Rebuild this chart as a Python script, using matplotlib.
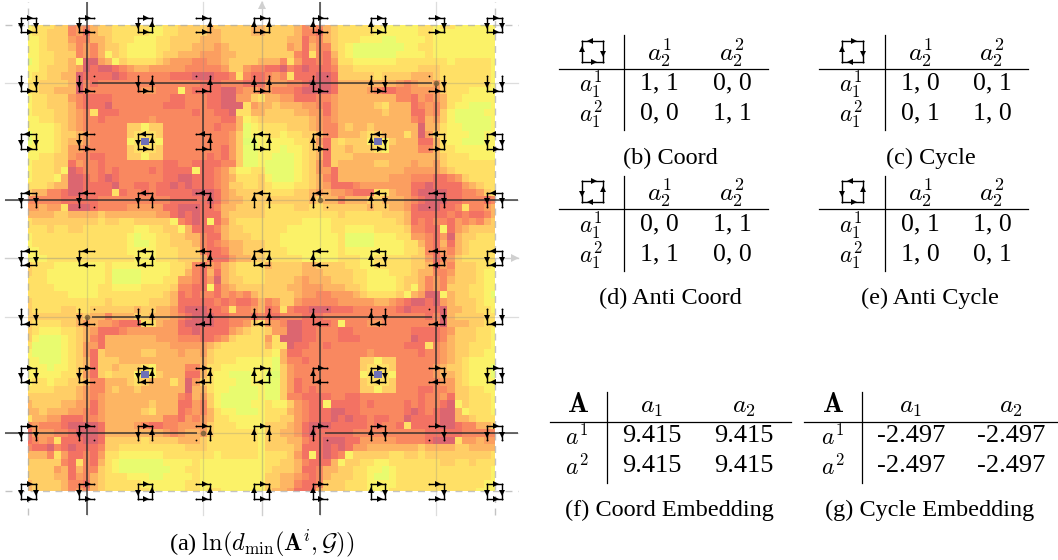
import numpy as np
import matplotlib
matplotlib.use('Agg')
import matplotlib.pyplot as plt
from matplotlib.colors import ListedColormap

plt.rcParams['font.family'] = ['Liberation Serif', 'DejaVu Serif']
plt.rcParams['mathtext.fontset'] = 'cm'

# heat levels read cell by cell, one char per cell, B is the blue minimum
top_left = [
"233344767544333332233444454444455","233444768544333332233444455444455",
"223444677554333222334444555444444","223444576754432222334445556544444",
"223344476752432222344555666554444","123344529965243333456667766544445",
"223444569899876556666677777644677","233445598888987777778889998873788",
"334444597877777777777777888777888","334455597777777766777278888997667",
"233444678888777777778877788996643","233444578889777777788877788999365",
"233344567388877777777778778893355","223344567787777776777777777885234",
"222234567777774424477777778775123","122234456777774333477777777764122",
"1222345567777723B3277777777764012","222234667777774333477777777864112",
"223344677887774424477777787864112","233344867787777777788778888774112",
"233342987787877778788882887642233","233325998789877777788998887653334",
"333455998888977887889898887644334","455778998888387787888889998654444",
"777778888877777777778888898655444","665663999877776666688999887554444",
"555544555545555555668989888544444","344444444434433444442789828643333",
"333433443333333223344258887544333","233333333333332122334455788544433",
"233333333333332112334445787655444","223333333333332222333444788755444",
"222333333333333222333444588865544",
]
top_right = [
"44445767543333332222233233222222","44445778543333322222233222222222",
"44455867543332221122223222222222","44465857743211111112233222222222",
"44447837853211111122223222222222","55736887863322222233333332333332",
"88978988874433333333344433333332","76738889984444434444555433333332",
"66677899985555555567655643333332","67778999985555678877666643332222",
"55668887765555555577867653322222","54555667865555543555876753221112",
"44445566865555554555886742111122","44444456765555555555785642111112",
"33344456775455455555595532211112","33233445775554345553596432221122",
"222233468434442B2455588532211122","22122345844544432555577533222222",
"21112345844455555555555543332222","11112346845555544555655643333333",
"11112346685555555556666654333333","21112345785555555666777887643333",
"32223345688876666666889888865433","33334456566788833566899998877643",
"44444454557555445556789998877787","33334433444444544556899988737765",
"33333333334333334445888887878875","33333222233333333345878778676754",
"33322222233222233334778828654444","33222222223111122233667869544333",
"33222222223111122223357858543333","33322222223222222223347867543333",
"33333222223332233333446876433333",
]
bottom_left = [
"433322222223222222223347867543333","433222222223111122223357858543333",
"333222222223111122233667869544333","333322222233222233334778828654444",
"333333222233333333345878778676754","433333333334333334445888887878875",
"433334433444444544556899988737765","444444454557555445556789998877787",
"433334456566788833566899998877643","432223345688876666666889888865433",
"421112345785555555666777887643333","311112346685555555556666654333333",
"211112346845555544555655643333333","221112345844455555555555543332222",
"222122345844544432555577533222222","2222233468434442B2455588532211122",
"233233445775554345553596432221122","333344456775455455555595532211112",
"444444456765555555555785642111112","544445566865555554555886742111122",
"554555667865555543555876753221112","355668887765555555577867653322222",
"767778999985555678877666643332222","866677899985555555567655643333332",
"876738889984444434444555433333332","788978988874433333333344433333332",
"555736887863322222233333332333332","444447837853211111122223222222222",
"444465857743211111112233222222222","444455867543332221122223222222222",
"544445778543333322222233222222222","544445767543333332222233233222222",
]
bottom_right = [
"54444554444332233333445867444332","44444555444433222333455776444322",
"44445655544433222234457675444322","44455666555443222234257674443322",
"44445667766654333342569925443321","76446777776666655678998965444322",
"87378899988877777789888895544332","88777888777777777777778795444433",
"66799888872777667777777795554433","46699887778877777777888876444332",
"63999887778887777777988875444332","53398877877777777778883765443332",
"32588777777777677777787765443322","21577877777774424477777765432222",
"21467777777774333477777654432221","104677777777723B3277777655432221",
"11468777777774333477777766432222","11468787777774424477788776443322",
"11477888877887777777787768443332","32246788288887877778787789243332",
"33356788899887777778987899523332","33446788898988788779888899554333",
"44456899988888787783888899877554","44556898888877777777778888877777",
"44455788999886666677778999366566","44445888989866555555545555445555",
"33346828987244444334434444444443","33445788852443322333333344334333",
"34445887554433221233333333333332","44556787544433211233333333333332",
"44557887444333222233333333333322","45568885444333222333333333333222",
]

# arrow direction of the four icon edges, by lattice row or column, 0 means no edge
top_dir = [1, 0, -1, -1, -1, 0, 1, 1, 1]
bottom_dir = [1, 1, 1, 0, -1, -1, -1, 0, 1]
left_dir = [-1, -1, -1, 0, 1, 1, 1, 0, -1]
right_dir = [-1, 0, 1, 1, 1, 0, -1, -1, -1]

lattice = [-4, -3, -2, -1, 0, 1, 2, 3, 4]
saddles_x = [3, 1, -3, -1]
saddles_y = [3, 1, -1, -3]
blue_colors = ['#e0fb72', '#e8fb6f', '#fbf268', '#ffe066', '#ffce66', '#fdb563',
               '#fb9e60', '#f98860', '#f37263', '#dc6670', '#6e70b8']

headers = ['$a_2^1$', '$a_2^2$']
row_labels = ['$a_1^1$', '$a_1^2$']
coord = [['1, 1', '0, 0'], ['0, 0', '1, 1']]
cycle = [['1, 0', '0, 1'], ['0, 1', '1, 0']]
anti_coord = [['0, 0', '1, 1'], ['1, 1', '0, 0']]
anti_cycle = [['0, 1', '1, 0'], ['1, 0', '0, 1']]
coord_emb = [['9.415', '9.415'], ['9.415', '9.415']]
cycle_emb = [['-2.497', '-2.497'], ['-2.497', '-2.497']]


def to_levels(rows, n):
    # a hand typed row can come out a cell short or long
    rows = [r[:n].ljust(n, r[-1]) for r in rows]
    return np.array([[10 if ch == 'B' else int(ch) for ch in r] for r in rows])


def draw_icon(ax, cx, cy, half, top, right, bottom, left, s=1, ms=4, lw=1.0):
    # s is -1 on an axes whose y runs downwards
    xl, xr = cx - half, cx + half
    yt, yb = cy + s * half, cy - s * half
    ax.plot([xl, xr, xl, xr], [yt, yt, yb, yb], ls='', marker='o', ms=1.3, color='k', zorder=6, mew=0)
    off = 0.2 * half
    for d, y in ((top, yt), (bottom, yb)):
        if d != 0:
            ax.plot([xl, xr], [y, y], color='k', lw=lw, zorder=6)
            ax.plot(cx + d * off, y, marker='>' if d > 0 else '<', ms=ms, color='k', zorder=7, mew=0)
    for d, x in ((left, xl), (right, xr)):
        if d != 0:
            ax.plot([x, x], [yt, yb], color='k', lw=lw, zorder=6)
            ax.plot(x, cy + s * d * off, marker='^' if d > 0 else 'v', ms=ms, color='k', zorder=7, mew=0)


fig = plt.figure(figsize=(10.58, 5.6), dpi=100)

# left panel, lattice units, -4..4 spans 28.3..494.7 px across and 25..491 px down
unit = 58.3
ax = fig.add_axes([0, 30 / 560, 532 / 1058, 530 / 560])
ax.set_xlim(-4 - 28.3 / unit, -4 + (532 - 28.3) / unit)
ax.set_ylim(4 - (530 - 25) / unit, 4 + 25 / unit)
ax.axis('off')

levels = np.vstack([np.hstack([to_levels(top_left, 33), to_levels(top_right, 32)]),
                    np.hstack([to_levels(bottom_left, 33), to_levels(bottom_right, 32)])])
edges = np.r_[-4, np.arange(-3.9375, 4, 0.125), 4]
ax.pcolormesh(edges, edges[::-1], levels, cmap=ListedColormap(blue_colors), vmin=-0.5, vmax=10.5,
              shading='flat', zorder=1)

ext = 4.4
for v in [-3, -1, 1, 3]:
    ax.plot([v, v], [-ext, ext], color='#888888', lw=0.9, alpha=0.28, zorder=2)
    ax.plot([-ext, ext], [v, v], color='#888888', lw=0.9, alpha=0.28, zorder=2)
ax.plot([0, 0], [-ext, ext], color='#888888', lw=1, alpha=0.4, zorder=2)
ax.plot([-ext, ext], [0, 0], color='#888888', lw=1, alpha=0.4, zorder=2)
ax.plot(0, ext - 0.05, marker='^', ms=6, color='#d0d0d0', zorder=2, mew=0)
ax.plot(ext - 0.05, 0, marker='>', ms=6, color='#d0d0d0', zorder=2, mew=0)
for v in [-4, 4]:
    ax.plot([v, v], [-ext, ext], color='#aaaaaa', lw=1, ls=(0, (5, 4)), alpha=0.7, zorder=3)
    ax.plot([-ext, ext], [v, v], color='#aaaaaa', lw=1, ls=(0, (5, 4)), alpha=0.7, zorder=3)

# dark best response lines
seg_v = [(-3, ext, 1), (-3, -1, -ext), (-1, 2.88, -2.9), (1, ext, 1), (1, -1.1, -ext), (3, 3, -2.9)]
seg_h = [(3, -2.9, 2.92), (1, -ext, -1.1), (1, 1.09, ext), (-1, -2.9, 2.92), (-3, -ext, -1.1), (-3, 1.09, ext)]
for x, y0, y1 in seg_v:
    ax.plot([x, x], [y0, y1], color='#222222', lw=1.3, alpha=0.72, zorder=4, solid_capstyle='butt')
for y, x0, x1 in seg_h:
    ax.plot([x0, x1], [y, y], color='#222222', lw=1.3, alpha=0.72, zorder=4, solid_capstyle='butt')
ax.plot(saddles_x, saddles_y, ls='', marker='o', ms=4, color='#7a6038', alpha=0.85, zorder=5, mew=0)

for r, yv in enumerate(lattice[::-1]):
    for c, xv in enumerate(lattice):
        draw_icon(ax, xv, yv, 0.125, top_dir[r], right_dir[c], bottom_dir[r], left_dir[c])

# right hand tables, drawn in pixel coordinates
pa = fig.add_axes([0, 0, 1, 1], zorder=10)
pa.set_xlim(0, 1058)
pa.set_ylim(560, 0)
pa.axis('off')
fs = 17.5


def table(vx, x0, x1, y0, y1, hy, head, rows, cells, xs, lab_x, head_y, row_y, cell_fs=18.5):
    pa.plot([vx, vx], [y0, y1], color='k', lw=0.9)
    pa.plot([x0, x1], [hy, hy], color='k', lw=0.9)
    for h, x in zip(head, xs):
        pa.text(x, head_y, h, ha='center', va='center', fontsize=18.5)
    for i, y in enumerate(row_y):
        pa.text(lab_x, y + 1, rows[i], ha='center', va='center', fontsize=17)
        for j, x in enumerate(xs):
            pa.text(x, y, cells[i][j], ha='center', va='center', fontsize=cell_fs)


table(624.3, 559, 768, 35, 130, 68.7, headers, row_labels, coord, [659, 732], 591, 53, [83, 113])
table(885, 819, 1028, 35, 130, 68.7, headers, row_labels, cycle, [920, 992], 851, 53, [83, 113])
table(624.3, 559, 768, 176, 271, 209, headers, row_labels, anti_coord, [659, 732], 591, 193, [224, 254])
table(885, 819, 1028, 176, 271, 209, headers, row_labels, anti_cycle, [920, 992], 851, 193, [224, 254])
draw_icon(pa, 592, 51.5, 10.5, -1, -1, 1, 1, s=-1, ms=4.5)
draw_icon(pa, 852, 51.5, 10.5, 1, -1, -1, 1, s=-1, ms=4.5)
draw_icon(pa, 592, 191.5, 10.5, 1, 1, -1, -1, s=-1, ms=4.5)
draw_icon(pa, 852, 191.5, 10.5, -1, 1, 1, -1, s=-1, ms=4.5)

emb_head = ['$a_1$', '$a_2$']
emb_rows = ['$a^1$', '$a^2$']
table(607, 550, 791, 392, 483, 422, emb_head, emb_rows, coord_emb, [652, 744], 577, 408, [436, 466], cell_fs=19)
table(862, 804, 1058, 392, 483, 422, emb_head, emb_rows, cycle_emb, [911, 1011], 833, 408, [436, 466], cell_fs=19)
pa.text(578, 406, r'$\mathbf{A}$', ha='center', va='center', fontsize=20)
pa.text(833, 406, r'$\mathbf{A}$', ha='center', va='center', fontsize=20)

captions = ['(b) Coord', '(c) Cycle', '(d) Anti Coord', '(e) Anti Cycle', '(f) Coord Embedding', '(g) Cycle Embedding']
cap_x = [670, 931, 670, 930, 669, 930]
cap_y = [158, 158, 298, 298, 510, 510]
for t, x, y in zip(captions, cap_x, cap_y):
    pa.text(x, y, t, ha='center', va='center', fontsize=fs)
pa.text(262, 543, r'(a) $\ln(d_{\min}(\mathbf{A}^i,\mathcal{G}))$', ha='center', va='center', fontsize=fs)

fig.savefig('out.png', dpi=100)
